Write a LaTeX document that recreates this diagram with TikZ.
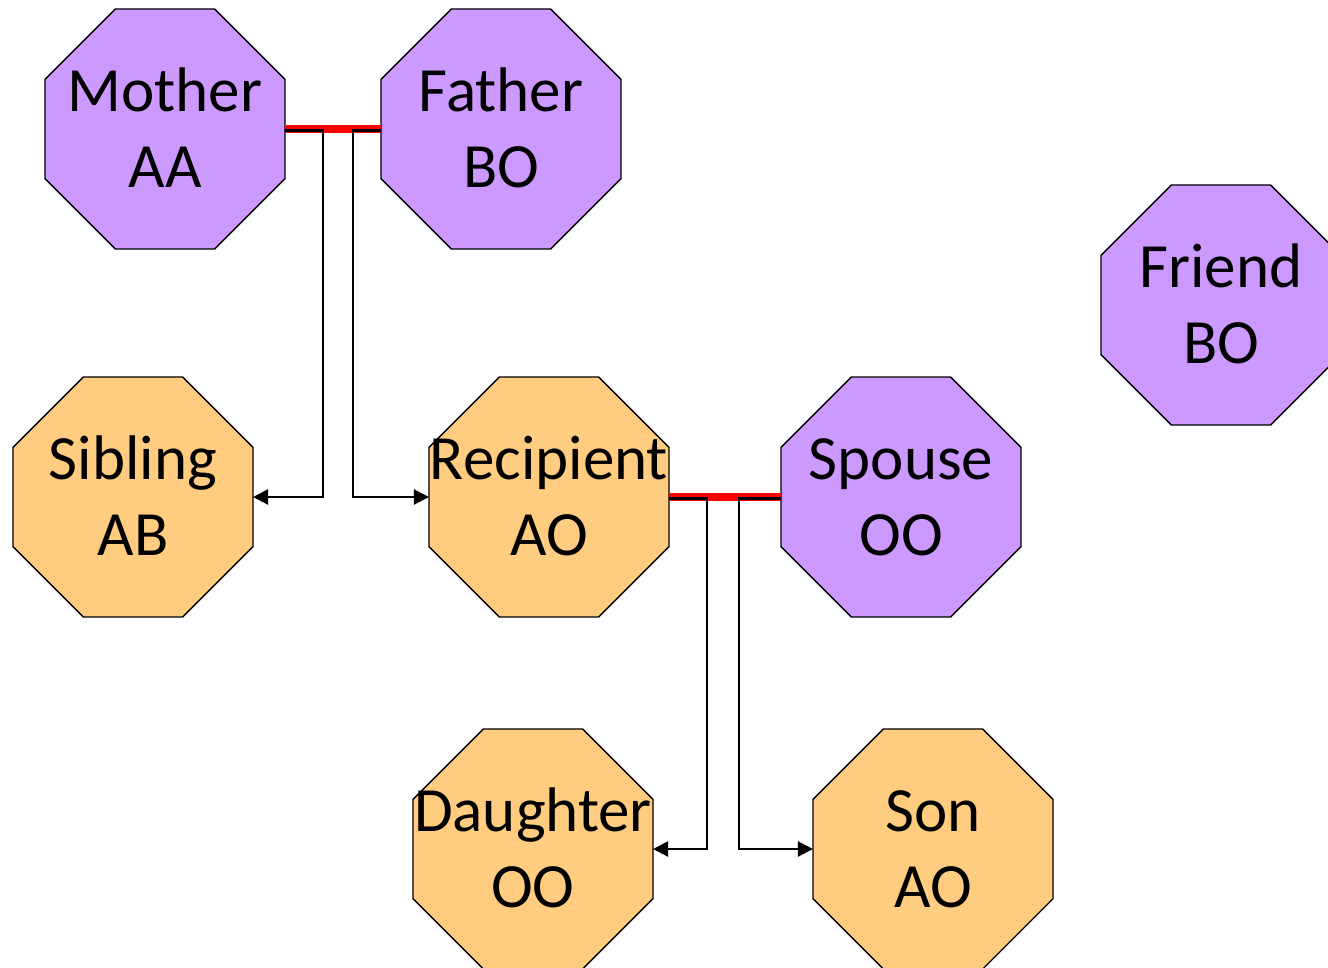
\documentclass[tikz,border=0pt]{standalone}
\usepackage{fontspec}
\setmainfont{Carlito}
\usetikzlibrary{shapes.geometric,arrows.meta,calc}
\definecolor{lilac}{HTML}{CC99FF}
\definecolor{peach}{HTML}{FFCC80}

\begin{document}
\begin{tikzpicture}[x=1pt,y=-1pt,
  octbox/.style={regular polygon, regular polygon sides=8, minimum size=259.8pt,
                 inner sep=0pt, outer sep=0pt, draw=black, line width=1.4pt},
  nametext/.style={font=\fontsize{63}{75}\selectfont, anchor=base, inner sep=0pt},
  couple/.style={draw=red, line width=7.5pt},
  descent/.style={draw=black, line width=2.2pt, -{Triangle[length=15pt,width=15pt]}},
]
\useasboundingbox (0,0) rectangle (1328,967);

% family members: name / centre x / centre y / fill / first line / second line
\foreach \id/\cx/\cy/\col/\lineone/\linetwo in {
    mother/165/129/lilac/Mother/AA,
    father/501/129/lilac/Father/BO,
    friend/1221/305/lilac/Friend/BO,
    sibling/133/497/peach/Sibling/AB,
    recipient/549/497/peach/Recipient/AO,
    spouse/901/497/lilac/Spouse/OO,
    daughter/533/849/peach/Daughter/OO,
    son/933/849/peach/Son/AO} {
  \node[octbox, fill=\col] (\id) at (\cx,\cy) {};
  \node[nametext] (\id-a) at ($(\id.center)+(0,-17.5)$) {\lineone};
  \node[nametext] (\id-b) at ($(\id.center)+(0,58)$) {\linetwo};
}

% marriages
\draw[couple] (mother.east) -- (father.west);
\draw[couple] (recipient.east) -- (spouse.west);

% descent lines
\draw[descent] ([yshift=-1.5pt]mother.east) -- ++(38,0) |- (sibling.east);
\draw[descent] ([yshift=-1.5pt]father.west) -- ++(-28,0) |- (recipient.west);
\draw[descent] ([yshift=-1.5pt]recipient.east) -- ++(38,0) |- (daughter.east);
\draw[descent] ([yshift=-1.5pt]spouse.west) -- ++(-42,0) |- (son.west);
\end{tikzpicture}
\end{document}
